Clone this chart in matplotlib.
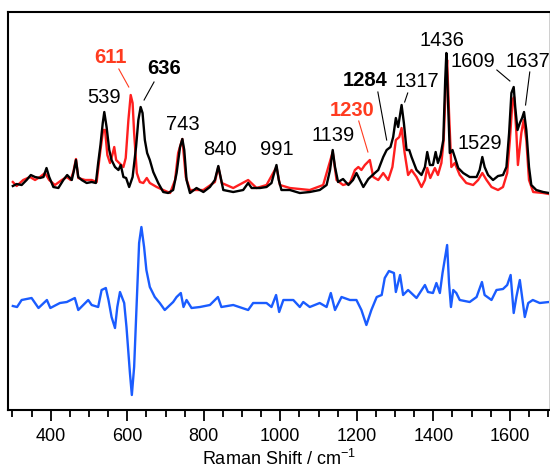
import matplotlib
matplotlib.use('Agg')
import matplotlib.pyplot as plt

plt.rcParams['font.family'] = ['Liberation Sans', 'DejaVu Sans']
plt.rcParams['mathtext.fontset'] = 'custom'
plt.rcParams['mathtext.rm'] = 'Liberation Sans'
plt.rcParams['mathtext.it'] = 'Liberation Sans:italic'

# Raman shift (cm^-1) and intensity (arb. units, offset)
BLACK_X = [301, 311, 324, 337, 348, 359, 372, 381, 389, 396, 407, 420, 433, 443, 455,
           461, 466, 472, 481, 494, 507, 518, 524, 530, 536, 540, 546, 553, 559, 568,
           577, 583, 590, 597, 605, 614, 623, 629, 635, 640, 646, 652, 659, 668, 681,
           694, 707, 720, 729, 738, 744, 749, 755, 764, 781, 799, 816, 829, 838, 844,
           851, 877, 903, 916, 925, 947, 964, 977, 984, 990, 996, 1003, 1025, 1051,
           1077, 1103, 1121, 1130, 1137, 1143, 1151, 1164, 1178, 1190, 1199, 1208,
           1217, 1230, 1247, 1256, 1269, 1278, 1288, 1295, 1302, 1308, 1317, 1323,
           1330, 1337, 1343, 1356, 1369, 1378, 1384, 1391, 1399, 1406, 1412, 1419,
           1426, 1431, 1434, 1439, 1443, 1450, 1456, 1465, 1478, 1495, 1513, 1521,
           1528, 1534, 1543, 1556, 1569, 1582, 1591, 1598, 1604, 1610, 1614, 1620,
           1626, 1632, 1637, 1643, 1650, 1656, 1669, 1687, 1702]
BLACK_Y = [224, 226, 225, 230, 235, 233, 232, 233, 242, 233, 223, 222, 230, 235, 230,
           240, 250, 233, 230, 227, 228, 227, 247, 265, 287, 298, 283, 260, 250, 243,
           240, 245, 233, 232, 223, 233, 263, 290, 303, 297, 270, 257, 250, 238, 227,
           218, 217, 220, 237, 263, 271, 260, 230, 217, 222, 218, 223, 230, 244, 233,
           220, 218, 220, 227, 222, 222, 223, 227, 237, 245, 230, 220, 220, 217,
           218, 220, 225, 240, 260, 243, 228, 231, 225, 230, 237, 230,
           223, 231, 237, 240, 253, 260, 263, 273, 292, 283, 305, 287,
           260, 260, 253, 240, 235, 243, 258, 245, 245, 258, 247, 255,
           270, 330, 357, 303, 257, 260, 253, 242, 237, 233, 233, 240,
           253, 243, 235, 230, 234, 235, 243, 277, 317, 323, 303, 280,
           287, 292, 298, 280, 243, 225, 220, 218, 217]

RED_X = [301, 311, 328, 346, 359, 372, 385, 396, 411, 429, 442, 452, 459, 466, 472,
         490, 507, 520, 529, 537, 542, 548, 555, 561, 566, 571, 579, 590, 596, 603,
         609, 614, 618, 625, 633, 642, 651, 659, 677, 694, 712, 725, 733, 744, 753,
         764, 799, 829, 838, 847, 877, 916, 938, 964, 990, 999, 1025, 1077, 1112,
         1137, 1147, 1164, 1182, 1195, 1204, 1212, 1221, 1234, 1243, 1256, 1269,
         1282, 1293, 1302, 1311, 1317, 1325, 1334, 1343, 1356, 1369, 1378, 1384,
         1392, 1404, 1412, 1421, 1427, 1433, 1436, 1441, 1447, 1456, 1469, 1486,
         1504, 1517, 1528, 1539, 1552, 1569, 1582, 1593, 1600, 1607, 1611, 1617,
         1621, 1630, 1636, 1643, 1650, 1661, 1687, 1702]
RED_Y = [228, 224, 230, 233, 230, 233, 237, 230, 225, 230, 233, 230, 238, 251, 232,
         230, 230, 228, 257, 280, 280, 255, 247, 255, 263, 250, 247, 243, 252, 290,
         315, 307, 277, 237, 228, 227, 232, 227, 223, 220, 217, 230, 257, 271, 233,
         220, 220, 228, 243, 227, 222, 230, 222, 225, 243, 225, 222, 220, 225,
         258, 230, 225, 227, 240, 243, 240, 245, 250, 233, 230, 237,
         230, 243, 270, 273, 282, 257, 235, 240, 233, 223, 230, 242,
         232, 242, 235, 247, 270, 330, 350, 297, 243, 247, 235, 227,
         225, 230, 237, 230, 223, 220, 223, 237, 270, 310, 313, 277,
         245, 277, 290, 270, 230, 218, 217, 216]

BLUE_X = [301, 312, 324, 350, 368, 390, 399, 424, 442, 463, 472, 498, 507, 524, 533,
          544, 551, 559, 568, 574, 581, 592, 598, 607, 612, 618, 625, 631, 637, 644,
          650, 659, 672, 685, 698, 720, 729, 740, 747, 755, 768, 790, 816, 837, 846,
          877, 916, 929, 964, 977, 989, 997, 1008, 1034, 1051, 1060, 1077, 1103,
          1121, 1132, 1143, 1160, 1182, 1199, 1212, 1225, 1238, 1252, 1265, 1273,
          1284, 1297, 1302, 1313, 1321, 1334, 1356, 1378, 1386, 1399, 1408, 1417,
          1424, 1436, 1441, 1446, 1452, 1460, 1469, 1495, 1513, 1527, 1534, 1552,
          1565, 1582, 1593, 1602, 1610, 1617, 1626, 1632, 1639, 1648, 1660, 1678, 1702]
BLUE_Y = [104, 103, 110, 112, 102, 110, 102, 107, 108, 112, 100, 110, 105, 103, 120,
          122, 110, 93, 82, 103, 118, 107, 83, 37, 15, 43, 110, 167, 183, 163,
          140, 123, 113, 107, 100, 108, 113, 117, 103, 110, 102, 103, 105, 113, 103,
          105, 100, 107, 107, 103, 115, 98, 110, 110, 103, 108, 103, 107,
          103, 117, 100, 113, 110, 110, 100, 85, 100, 113, 115, 132,
          139, 137, 118, 135, 115, 120, 112, 125, 118, 117, 127, 117,
          137, 165, 127, 103, 120, 117, 110, 108, 113, 128, 115, 110,
          120, 121, 125, 135, 97, 113, 130, 113, 93, 107, 110, 107, 108]

# peak labels: text, x, y, colour, bold
LABELS = [
    ('611', 555, 353, 'red', True), ('636', 696, 342, 'k', True),
    ('539', 539, 313, 'k', False), ('743', 745, 286, 'k', False),
    ('840', 843, 261, 'k', False), ('991', 991, 261, 'k', False),
    ('1139', 1137, 275, 'k', False), ('1230', 1187, 300, 'red', True),
    ('1284', 1221, 330, 'k', True), ('1317', 1357, 329, 'k', False),
    ('1436', 1422, 370, 'k', False), ('1529', 1521, 267, 'k', False),
    ('1609', 1503, 349, 'k', False), ('1637', 1647, 349, 'k', False),
]
LEADERS = [
    ((578, 604), (341, 323), 'red'), ((670, 644), (328, 310), 'k'),
    ((1205, 1229), (289, 258), 'red'), ((1255, 1278), (318, 270), 'k'),
    ((1333, 1325), (317, 308), 'k'), ((1566, 1600), (340, 329), 'k'),
    ((1652, 1641), (338, 305), 'k'),
]

RED = '#ff1f1f'
RED_TXT = '#ff3b1f'
BLUE = '#1a5cff'

fig = plt.figure(figsize=(5.5, 4.71), dpi=100)
ax = fig.add_axes([0.015, 0.1295, 0.983, 0.845])

ax.plot(RED_X, RED_Y, color=RED, lw=1.7, zorder=2)
ax.plot(BLACK_X, BLACK_Y, color='black', lw=1.7, zorder=3)
ax.plot(BLUE_X, BLUE_Y, color=BLUE, lw=1.7, zorder=2)

for txt, x, y, c, bold in LABELS:
    ax.text(x, y, txt, ha='center', va='center', fontsize=14.5,
            color=RED_TXT if c == 'red' else 'black',
            fontweight='bold' if bold else 'normal')
for xs, ys, c in LEADERS:
    ax.plot(xs, ys, color=RED_TXT if c == 'red' else 'black', lw=0.8)

ax.set_xlim(289, 1702)
ax.set_ylim(0, 398)
ax.set_yticks([])
ax.set_xticks(range(400, 1700, 200))
ax.set_xticks(range(300, 1701, 50), minor=True)
ax.tick_params(axis='x', which='major', direction='out', length=8, width=1.3,
               labelsize=13, pad=5)
ax.tick_params(axis='x', which='minor', direction='out', length=5, width=1.3)
for s in ['left', 'top', 'bottom']:
    ax.spines[s].set_linewidth(1.5)
ax.spines['right'].set_color('#c8c8c8')
ax.spines['right'].set_linewidth(0.6)
ax.set_xlabel('Raman Shift / cm$^{-1}$', fontsize=13, labelpad=3)

fig.savefig('out.png', dpi=100, facecolor='white')
